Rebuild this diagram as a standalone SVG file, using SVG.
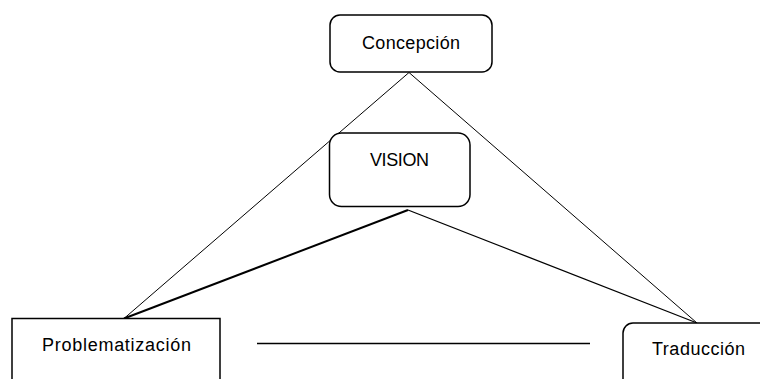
<svg xmlns="http://www.w3.org/2000/svg" width="760" height="379" viewBox="0 0 760 379">
<style>
.box{fill:#fff;stroke:#000;stroke-width:1.5}
.t{font-family:"Liberation Sans",Arial,sans-serif;font-size:18px;fill:#000;text-anchor:middle}
.c{stroke:#000;fill:none}
</style>
<rect width="760" height="379" fill="#fff"/>
<g id="connectors">
<line class="c" x1="409" y1="72.5" x2="124" y2="318.5" stroke-width="1"/>
<line class="c" x1="409" y1="72.5" x2="697" y2="323" stroke-width="1"/>
<line class="c" x1="408" y1="210" x2="124" y2="318.5" stroke-width="2"/>
<line class="c" x1="408" y1="210" x2="697" y2="323" stroke-width="1.3"/>
<line class="c" x1="257" y1="343.5" x2="590" y2="343.5" stroke-width="1.5"/>
</g>
<g id="concepcion">
<rect class="box" x="330" y="15" width="162" height="57" rx="10"/>
<text class="t" x="411" y="49" textLength="98">Concepción</text>
</g>
<g id="vision">
<rect class="box" x="329.5" y="133" width="140.5" height="73.5" rx="12"/>
<text class="t" x="399.5" y="166" textLength="59">VISION</text>
</g>
<g id="problematizacion">
<rect class="box" x="12" y="318.5" width="208" height="80" fill="none"/>
<text class="t" x="116.5" y="350.5" textLength="149">Problematización</text>
</g>
<g id="traduccion">
<rect class="box" x="623" y="323" width="160" height="80" rx="10"/>
<text class="t" x="698.5" y="355" textLength="93">Traducción</text>
</g>
</svg>
